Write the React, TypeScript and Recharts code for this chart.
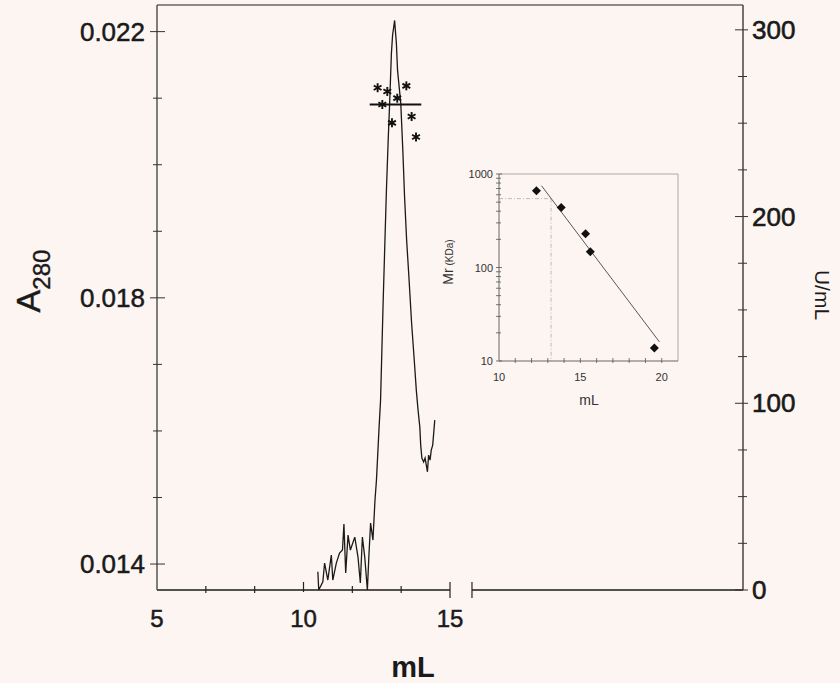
import React from 'react';
import { ComposedChart, Line, Scatter, XAxis, YAxis, ReferenceLine } from 'recharts';

// elution profile (A280)
const elutionMl = [10.49, 10.52, 10.66, 10.72, 10.83, 10.95, 11.0, 11.12, 11.23, 11.33, 11.38, 11.44, 11.52, 11.6, 11.75, 11.86, 11.94, 12.01, 12.09, 12.18, 12.23, 12.29, 12.37, 12.44, 12.49, 12.58, 12.63, 12.72, 12.83, 12.89, 12.94, 13.0, 13.04, 13.11, 13.17, 13.21, 13.32, 13.39, 13.45, 13.52, 13.59, 13.69, 13.78, 13.85, 13.91, 13.97, 14.0, 14.04, 14.1, 14.15, 14.23, 14.27, 14.32, 14.36, 14.41, 14.48];
const a280 = [0.013884, 0.01361, 0.013734, 0.014015, 0.01376, 0.014135, 0.01376, 0.014015, 0.014165, 0.01421, 0.014601, 0.013865, 0.014435, 0.01421, 0.014405, 0.014105, 0.013715, 0.014405, 0.014105, 0.01361, 0.014105, 0.014616, 0.01436, 0.014961, 0.015261, 0.016057, 0.016462, 0.017964, 0.019616, 0.020366, 0.020922, 0.021673, 0.021943, 0.022168, 0.021823, 0.021417, 0.020922, 0.020216, 0.019511, 0.018865, 0.01837, 0.017619, 0.017063, 0.016613, 0.016312, 0.016057, 0.015787, 0.015592, 0.015532, 0.015592, 0.015386, 0.015637, 0.015562, 0.015712, 0.015787, 0.016162];

// activity (U/mL)
const activityMl = [12.53, 12.86, 13.51, 13.2, 12.69, 13.69, 13.02, 13.84];
const activityU = [269, 267, 270, 263.4, 260, 253.6, 250.2, 242.6];
const activityMean = 260;
const activityMeanFrom = 12.26;
const activityMeanTo = 14.02;

// calibration inset
const calibMl = [12.3, 13.82, 15.32, 15.61, 19.55];
const calibMr = [664, 439, 230, 147.5, 13.8];
const fitMl = [12.61, 19.86];
const fitMr = [750, 16];
const sampleMl = 13.2;
const sampleMr = 545;

// ticks
const xTicks = [5, 6.667, 8.333, 10, 11.667, 13.333, 15, 15.75];
const xLabels = [5, 10, 15];
const xBreak = [15, 15.75];
const leftTicks = [0.014, 0.015, 0.016, 0.017, 0.018, 0.019, 0.02, 0.021, 0.022];
const leftLabels = [0.014, 0.018, 0.022];
const rightTicks = [0, 25, 50, 75, 100, 125, 150, 175, 200, 225, 250, 275, 300];
const rightLabels = [0, 100, 200, 300];
const insetYTicks = [10, 20, 30, 40, 50, 60, 70, 80, 90, 100, 200, 300, 400, 500, 600, 700, 800, 900, 1000];
const insetYLabels = [10, 100, 1000];
const insetXTicks = [10, 11, 12, 13, 14, 15, 16, 17, 18, 19, 20];
const insetXLabels = [10, 15, 20];

const A_MIN = 0.01361;
const A_MAX = 0.0224;
const U_MAX = 313.3;

const a280Data = elutionMl.map((ml, i) => ({ ml, a: a280[i] }));
const activityData = activityMl.map((ml, i) => ({ ml, u: activityU[i] }));
const calibData = calibMl.map((ml, i) => ({ ml, mr: calibMr[i] }));
const fitData = fitMl.map((ml, i) => ({ ml, mr: fitMr[i] }));

const FONT = 'Liberation Sans, Arial, sans-serif';
const BG = '#fdf5f2';
const INK = '#1a1a1a';
const has = (arr: number[], v: number) => arr.some((t) => Math.abs(t - v) < 1e-6);

const BottomTick = (props: any) => {
  const { x, y, payload } = props;
  const v = payload.value;
  const isBreak = has(xBreak, v);
  const major = has(xLabels, v);
  return (
    <g>
      {v !== 5 && (
        <line x1={x} x2={x} y1={isBreak ? y - 8 : major ? y - 8 : y - 4} y2={isBreak ? y + 8 : major ? y + 2 : y + 3} stroke="#222" strokeWidth={1.2} />
      )}
      {major && (
        <text x={x} y={y + 37} textAnchor="middle" fontSize={24} fontFamily={FONT} style={{ fill: INK, stroke: INK, strokeWidth: 0.5 }}>
          {v}
        </text>
      )}
    </g>
  );
};

const LeftTick = (props: any) => {
  const { x, y, payload } = props;
  const major = has(leftLabels, payload.value);
  return (
    <g>
      <line x1={x - (major ? 7 : 4)} x2={x + (major ? 8 : 5)} y1={y} y2={y} stroke="#333" strokeWidth={1} />
      {major && (
        <text x={x - 12} y={y} textAnchor="end" dominantBaseline="central" fontSize={26} fontFamily={FONT} style={{ fill: INK, stroke: INK, strokeWidth: 0.5 }}>
          {payload.value.toFixed(3)}
        </text>
      )}
    </g>
  );
};

const RightTick = (props: any) => {
  const { x, y, payload } = props;
  const major = has(rightLabels, payload.value);
  return (
    <g>
      <line x1={x - (major ? 8 : 5)} x2={x + (major ? 5 : 4)} y1={y} y2={y} stroke="#333" strokeWidth={1} />
      {major && (
        <text x={x + 9} y={y} textAnchor="start" dominantBaseline="central" fontSize={26} fontFamily={FONT} style={{ fill: INK, stroke: INK, strokeWidth: 0.6 }}>
          {payload.value}
        </text>
      )}
    </g>
  );
};

const LeftLabel = () => (
  <text x={40} y={281} transform="rotate(-90, 40, 281)" textAnchor="middle" fontSize={34} fontFamily={FONT} style={{ fill: INK, stroke: INK, strokeWidth: 0.4 }}>
    A<tspan fontSize={24} dy={10}>280</tspan>
  </text>
);

const RightLabel = () => (
  <text x={815} y={295} transform="rotate(90, 815, 295)" textAnchor="middle" fontSize={21} fontFamily={FONT} style={{ fill: INK }}>
    U/mL
  </text>
);

const BottomLabel = () => (
  <text x={413} y={677} textAnchor="middle" fontSize={29} fontWeight="bold" fontFamily={FONT} style={{ fill: INK }}>
    mL
  </text>
);

const Asterisk = (props: any) => {
  const { cx, cy } = props;
  const r = 4.5;
  const dx = r * Math.cos(Math.PI / 6);
  const dy = r * Math.sin(Math.PI / 6);
  return (
    <g stroke="#111" strokeWidth={1.9}>
      <line x1={cx} y1={cy - r} x2={cx} y2={cy + r} />
      <line x1={cx - dx} y1={cy - dy} x2={cx + dx} y2={cy + dy} />
      <line x1={cx - dx} y1={cy + dy} x2={cx + dx} y2={cy - dy} />
    </g>
  );
};

const Diamond = (props: any) => {
  const { cx, cy } = props;
  const r = 4.5;
  return <polygon points={`${cx},${cy - r} ${cx + r},${cy} ${cx},${cy + r} ${cx - r},${cy}`} fill="#111" />;
};

const InsetBottomTick = (props: any) => {
  const { x, y, payload } = props;
  const major = has(insetXLabels, payload.value);
  return (
    <g>
      {payload.value !== 10 && <line x1={x} x2={x} y1={y - 3} y2={y + 2} stroke="#555" strokeWidth={0.8} />}
      {major && (
        <text x={x} y={y + 16} textAnchor="middle" dominantBaseline="central" fontSize={11} fontFamily={FONT} style={{ fill: '#333' }}>
          {payload.value}
        </text>
      )}
    </g>
  );
};

const InsetLeftTick = (props: any) => {
  const { x, y, payload } = props;
  const major = has(insetYLabels, payload.value);
  return (
    <g>
      <line x1={x - 3} x2={x + (major ? 3 : 2)} y1={y} y2={y} stroke="#555" strokeWidth={0.8} />
      {major && (
        <text x={x - 6} y={y} textAnchor="end" dominantBaseline="central" fontSize={11} fontFamily={FONT} style={{ fill: '#333' }}>
          {payload.value}
        </text>
      )}
    </g>
  );
};

const InsetYLabel = () => (
  <text x={453} y={262} transform="rotate(-90, 453, 262)" textAnchor="middle" fontSize={14} fontFamily={FONT} style={{ fill: '#333' }}>
    Mr<tspan fontSize={10}> (KDa)</tspan>
  </text>
);

const InsetXLabel = () => (
  <text x={589} y={405} textAnchor="middle" fontSize={14} fontFamily={FONT} style={{ fill: '#333' }}>
    mL
  </text>
);

export default function App() {
  return (
    <div style={{ position: 'relative', width: 840, height: 683, background: BG, fontFamily: FONT }}>
      <style>{`body{margin:0;background:${BG}}`}</style>
      <ComposedChart width={840} height={683} margin={{ top: 5, right: 0, bottom: 0, left: 0 }}>
        <XAxis
          dataKey="ml"
          type="number"
          domain={[5, 25]}
          ticks={xTicks}
          interval={0}
          height={93}
          tickSize={0}
          tickMargin={0}
          tickLine={false}
          axisLine={false}
          tick={<BottomTick />}
          label={<BottomLabel />}
          allowDataOverflow
        />
        <YAxis
          yAxisId="left"
          orientation="left"
          type="number"
          domain={[A_MIN, A_MAX]}
          ticks={leftTicks}
          interval={0}
          width={157}
          tickSize={0}
          tickMargin={0}
          tickLine={false}
          axisLine={{ stroke: '#555', strokeWidth: 1.5 }}
          tick={<LeftTick />}
          label={<LeftLabel />}
          allowDataOverflow
        />
        <YAxis
          yAxisId="right"
          orientation="right"
          type="number"
          domain={[0, U_MAX]}
          ticks={rightTicks}
          interval={0}
          width={97}
          tickSize={0}
          tickMargin={0}
          tickLine={false}
          axisLine={{ stroke: '#444', strokeWidth: 1.5 }}
          tick={<RightTick />}
          label={<RightLabel />}
          allowDataOverflow
        />
        <ReferenceLine yAxisId="left" y={A_MAX} stroke="#8a8a8a" strokeWidth={2} />
        <ReferenceLine yAxisId="left" segment={[{ x: 5, y: A_MIN }, { x: xBreak[0], y: A_MIN }]} stroke={INK} strokeWidth={1.6} />
        <ReferenceLine yAxisId="left" segment={[{ x: xBreak[1], y: A_MIN }, { x: 25, y: A_MIN }]} stroke={INK} strokeWidth={1.6} />
        <Line
          yAxisId="left"
          data={a280Data}
          dataKey="a"
          type="linear"
          stroke={INK}
          strokeWidth={1.3}
          dot={false}
          isAnimationActive={false}
        />
        <ReferenceLine
          yAxisId="right"
          segment={[{ x: activityMeanFrom, y: activityMean }, { x: activityMeanTo, y: activityMean }]}
          stroke="#111"
          strokeWidth={2}
        />
        <Scatter yAxisId="right" data={activityData} dataKey="u" shape={<Asterisk />} isAnimationActive={false} />
      </ComposedChart>

      <div style={{ position: 'absolute', left: 440, top: 160 }}>
        <ComposedChart width={250} height={260} margin={{ top: 14, right: 12, bottom: 0, left: 0 }}>
          <XAxis
            dataKey="ml"
            type="number"
            domain={[10, 21]}
            ticks={insetXTicks}
            interval={0}
            height={59}
            tickSize={0}
            tickMargin={0}
            tickLine={false}
            axisLine={{ stroke: '#666', strokeWidth: 1 }}
            tick={<InsetBottomTick />}
            label={<g transform="translate(-440,-160)"><InsetXLabel /></g>}
            allowDataOverflow
          />
          <YAxis
            type="number"
            scale="log"
            domain={[10, 1000]}
            ticks={insetYTicks}
            interval={0}
            width={59}
            tickSize={0}
            tickMargin={0}
            tickLine={false}
            axisLine={{ stroke: '#666', strokeWidth: 1 }}
            tick={<InsetLeftTick />}
            label={<g transform="translate(-440,-160)"><InsetYLabel /></g>}
            allowDataOverflow
          />
          <ReferenceLine y={1000} stroke="#aaa" strokeWidth={1} />
          <ReferenceLine x={21} stroke="#aaa" strokeWidth={1} />
          <ReferenceLine segment={[{ x: 10, y: sampleMr }, { x: sampleMl, y: sampleMr }]} stroke="#bbb" strokeWidth={1} strokeDasharray="4 2 1 2" />
          <ReferenceLine segment={[{ x: sampleMl, y: sampleMr }, { x: sampleMl, y: 10 }]} stroke="#bbb" strokeWidth={1} strokeDasharray="4 2 1 2" />
          <Line data={fitData} dataKey="mr" type="linear" stroke="#444" strokeWidth={0.9} dot={false} isAnimationActive={false} />
          <Scatter data={calibData} dataKey="mr" shape={<Diamond />} isAnimationActive={false} />
        </ComposedChart>
      </div>
    </div>
  );
}
